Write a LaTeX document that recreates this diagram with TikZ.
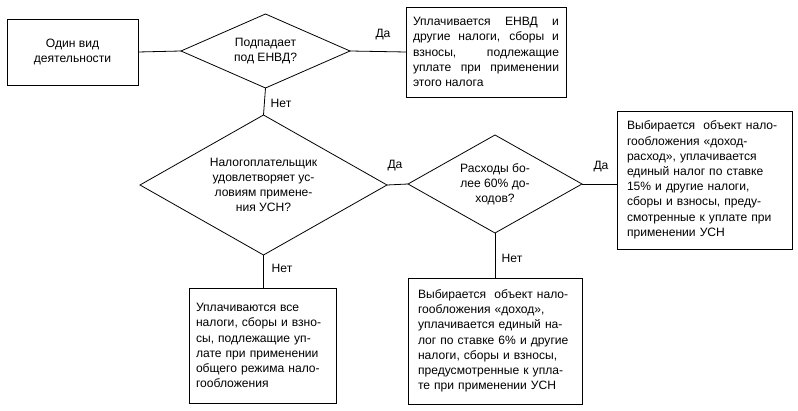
\documentclass[tikz,border=0pt]{standalone}
\usepackage{fontspec}
\setmainfont{Liberation Sans}
\usetikzlibrary{shapes.geometric}

\begin{document}
\begin{tikzpicture}[x=1pt,y=-1pt,
    every node/.style = {font=\fontsize{12.1}{15.2}\selectfont},
    box/.style = {rectangle,draw,line width=0.8pt,inner sep=0pt,outer sep=0pt},
    ask/.style = {diamond,draw,line width=0.8pt,inner sep=0pt,outer sep=0pt,align=center},
    link/.style = {line width=0.8pt},
    answer/.style = {inner sep=0pt}]
\useasboundingbox (0,0) rectangle (798,411);
% blocks
\node[box,minimum width=131,minimum height=66,align=center] (one) at (72.5,52) {Один вид\\деятельности};
\node[ask,minimum width=169,minimum height=74,aspect=2.28] (q1) at (265.5,51) {Подпадает\\под ЕНВД?};
\node[box,minimum width=160,minimum height=90,text width=146,align=justify] (envd) at (486,52)
    {Уплачивается ЕНВД и\linebreak другие налоги, сборы и\linebreak взносы, подлежащие\linebreak уплате при применении\linebreak этого налога};
\node[ask,minimum width=247,minimum height=140,aspect=1.76] (q2) at (263.5,185)
    {Налогоплательщик\\удовлетворяет ус-\\ловиям примене-\\ния УСН?};
\node[ask,minimum width=174,minimum height=98,aspect=1.78] (q3) at (495,184) {Расходы бо-\\лее 60\% до-\\ходов?};
\node[box,minimum width=175,minimum height=138,text width=155,align=left] (usn15) at (704.5,180)
    {Выбирается~ объект нало-\\гообложения «доход-\\расход», уплачивается\\единый налог по ставке\\15\% и другие налоги,\\сборы и взносы, преду-\\смотренные к уплате при\\применении УСН};
\node[box,minimum width=147,minimum height=115,text width=133,align=left] (osn) at (262.5,345.5)
    {Уплачиваются все\\налоги, сборы и взно-\\сы, подлежащие уп-\\лате при применении\\общего режима нало-\\гообложения};
\node[box,minimum width=174,minimum height=126,text width=154,align=left] (usn6) at (495,341)
    {Выбирается~ объект нало-\\гообложения «доход»,\\уплачивается единый на-\\лог по ставке 6\% и другие\\налоги, сборы и взносы,\\предусмотренные к упла-\\те при применении УСН};
% connectors
\foreach \a/\b in {one/q1, q1/envd, q2/q3}
    \draw[link] (\a.east) -- (\b.west);
\draw[link] (q3.east) -- (q3.east -| usn15.west);
\draw[link] (q1.south) -- (q2.north);
\draw[link] (q2.south) -- (q2.south |- osn.north);
\draw[link] (q3.south) -- (usn6.north);
% answers
\node[answer] (yes1) at (383,35) {Да};
\node[answer] (yes2) at (395,166) {Да};
\node[answer] (yes3) at (601,167) {Да};
\node[answer] (no1) at (281,103) {Нет};
\node[answer] (no2) at (282,268) {Нет};
\node[answer] (no3) at (512,258) {Нет};
\end{tikzpicture}
\end{document}
